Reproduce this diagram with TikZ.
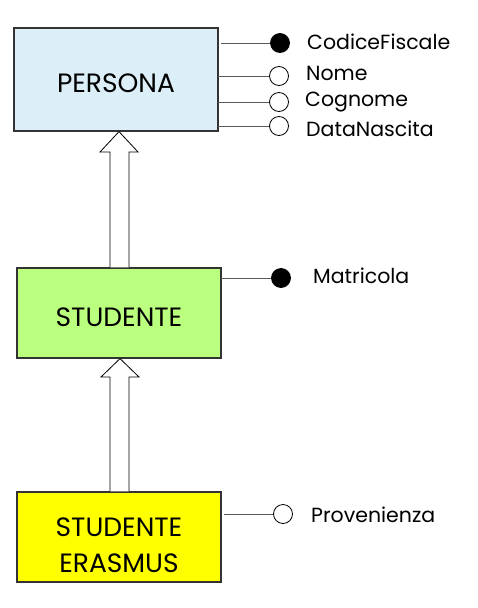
\documentclass[tikz,border=0pt]{standalone}
\usepackage{fontspec}
\setmainfont{Poppins}
\begin{document}
\begin{tikzpicture}[x=1pt,y=-1pt,
  entity/.style={draw=black!80, line width=1.2pt, minimum width=204pt, inner sep=0pt, align=center, font=\fontsize{26.5}{36}\selectfont},
  attrline/.style={draw=black!65, line width=1pt},
  keyattr/.style={circle, fill=black, draw=black, line width=0.8pt, minimum size=19pt, inner sep=0pt},
  optattr/.style={circle, fill=white, draw=black, line width=0.8pt, minimum size=19pt, inner sep=0pt},
  attrlabel/.style={anchor=west, inner sep=0pt, font=\fontsize{20.5}{22}\selectfont},
  isa/.style={draw=black, line width=0.8pt, fill=white}]
\useasboundingbox (0,0) rectangle (478,608);
% entities
\node[entity, fill={rgb,255:red,220;green,238;blue,247}, minimum height=103pt] (persona) at (116,79.5) {\raisebox{-12.75pt}[0pt][0pt]{PERSONA}};
\node[entity, fill={rgb,255:red,186;green,255;blue,126}, minimum height=90pt] (studente) at (119,313) {\raisebox{-13.75pt}[0pt][0pt]{STUDENTE}};
\node[entity, fill={rgb,255:red,255;green,255;blue,0}, minimum height=90pt] (erasmus) at (119,537) {\raisebox{0.75pt}[0pt][0pt]{\begin{tabular}[t]{@{}c@{}}STUDENTE\\ERASMUS\end{tabular}}};
% attributes of PERSONA
\node[keyattr] (cf) at (280,43) {};
\node[optattr] (nome) at (279,76) {};
\node[optattr] (cognome) at (279,102) {};
\node[optattr] (dn) at (279,126) {};
\coordinate (cf0) at (221,43);
\coordinate (nome0) at (218,76);
\coordinate (cognome0) at (218,102);
\coordinate (dn0) at (218,126);
\draw[attrline] (cf0) -- (cf);
\draw[attrline] (nome0) -- (nome);
\draw[attrline] (cognome0) -- (cognome);
\draw[attrline] (dn0) -- (dn);
\node[attrlabel] (cft) at (307,42) {CodiceFiscale};
\node[attrlabel] (nomet) at (306,73) {Nome};
\node[attrlabel] (cognomet) at (305,102) {Cognome};
\node[attrlabel] (dnt) at (306,129) {DataNascita};
% attributes of STUDENTE
\node[keyattr] (mat) at (281,278) {};
\coordinate (mat0) at (221,278);
\draw[attrline] (mat0) -- (mat);
\node[attrlabel] (matt) at (313,276) {Matricola};
% attributes of ERASMUS
\node[optattr] (prov) at (283,514) {};
\coordinate (prov0) at (224,514);
\draw[attrline] (prov0) -- (prov);
\node[attrlabel] (provt) at (311,515) {Provenienza};
% ISA arrows
\draw[isa] (studente.north -| 110,0) -- (110,152) -- (100,152) -- (persona.south -| 119,0) -- (138,152) -- (129,152) -- (studente.north -| 129,0);
\draw[isa] (erasmus.north -| 110,0) -- (110,377) -- (101,377) -- (studente.south -| 120,0) -- (139,377) -- (129,377) -- (erasmus.north -| 129,0);
\end{tikzpicture}
\end{document}
